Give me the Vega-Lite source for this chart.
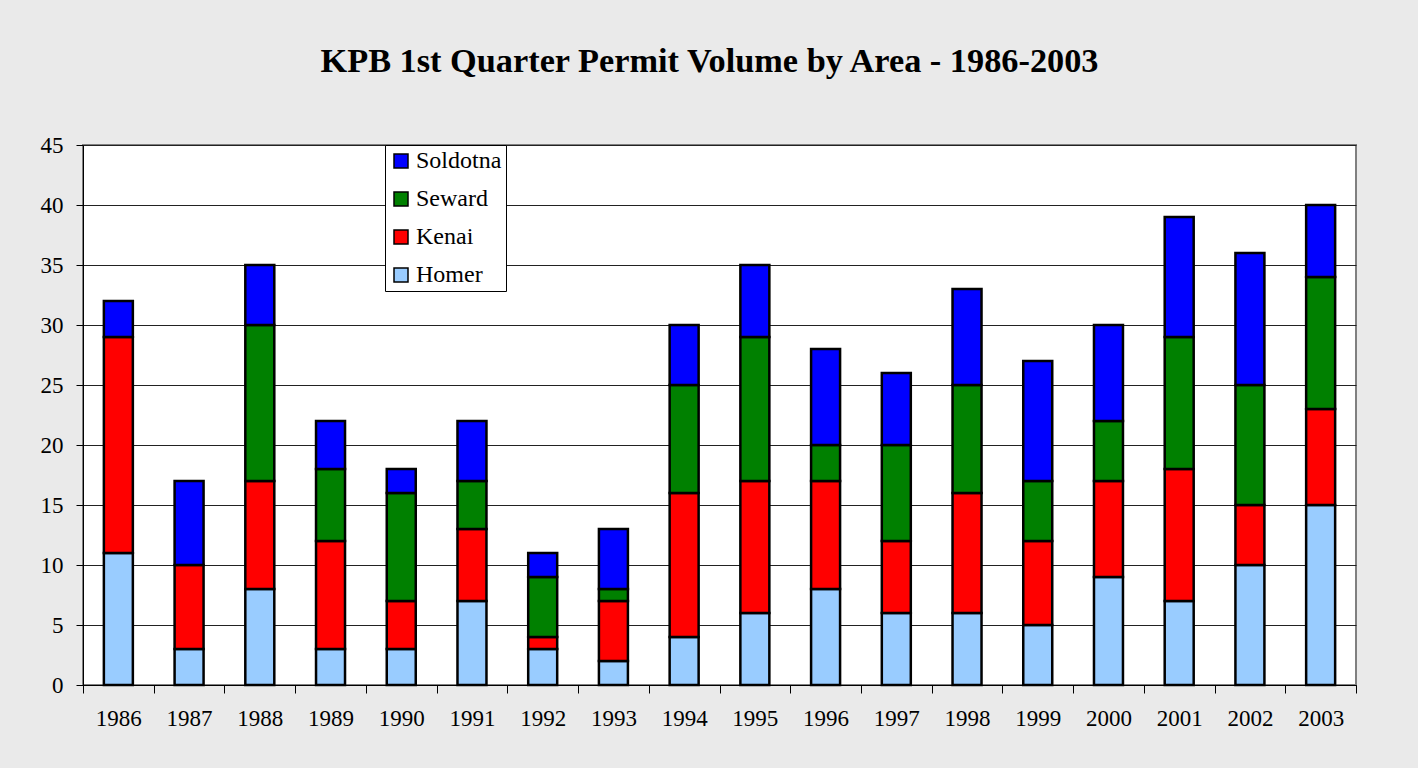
{
  "$schema": "https://vega.github.io/schema/vega-lite/v6.json",
  "width": 1273,
  "height": 540,
  "autosize": {"type": "none"},
  "padding": {"left": 83, "top": 145, "right": 62, "bottom": 83},
  "background": "#eaeaea",
  "title": {
    "text": "KPB 1st Quarter Permit Volume by Area - 1986-2003",
    "font": "Liberation Serif",
    "fontSize": 34.3,
    "fontWeight": "bold",
    "color": "#000000",
    "anchor": "middle",
    "frame": "group",
    "dx": -10,
    "baseline": "alphabetic",
    "offset": 28
  },
  "data": {
    "values": [
      {"year": "1986", "area": "Homer", "value": 11, "ord": 1},
      {"year": "1986", "area": "Kenai", "value": 18, "ord": 2},
      {"year": "1986", "area": "Soldotna", "value": 3, "ord": 4},
      {"year": "1987", "area": "Homer", "value": 3, "ord": 1},
      {"year": "1987", "area": "Kenai", "value": 7, "ord": 2},
      {"year": "1987", "area": "Soldotna", "value": 7, "ord": 4},
      {"year": "1988", "area": "Homer", "value": 8, "ord": 1},
      {"year": "1988", "area": "Kenai", "value": 9, "ord": 2},
      {"year": "1988", "area": "Seward", "value": 13, "ord": 3},
      {"year": "1988", "area": "Soldotna", "value": 5, "ord": 4},
      {"year": "1989", "area": "Homer", "value": 3, "ord": 1},
      {"year": "1989", "area": "Kenai", "value": 9, "ord": 2},
      {"year": "1989", "area": "Seward", "value": 6, "ord": 3},
      {"year": "1989", "area": "Soldotna", "value": 4, "ord": 4},
      {"year": "1990", "area": "Homer", "value": 3, "ord": 1},
      {"year": "1990", "area": "Kenai", "value": 4, "ord": 2},
      {"year": "1990", "area": "Seward", "value": 9, "ord": 3},
      {"year": "1990", "area": "Soldotna", "value": 2, "ord": 4},
      {"year": "1991", "area": "Homer", "value": 7, "ord": 1},
      {"year": "1991", "area": "Kenai", "value": 6, "ord": 2},
      {"year": "1991", "area": "Seward", "value": 4, "ord": 3},
      {"year": "1991", "area": "Soldotna", "value": 5, "ord": 4},
      {"year": "1992", "area": "Homer", "value": 3, "ord": 1},
      {"year": "1992", "area": "Kenai", "value": 1, "ord": 2},
      {"year": "1992", "area": "Seward", "value": 5, "ord": 3},
      {"year": "1992", "area": "Soldotna", "value": 2, "ord": 4},
      {"year": "1993", "area": "Homer", "value": 2, "ord": 1},
      {"year": "1993", "area": "Kenai", "value": 5, "ord": 2},
      {"year": "1993", "area": "Seward", "value": 1, "ord": 3},
      {"year": "1993", "area": "Soldotna", "value": 5, "ord": 4},
      {"year": "1994", "area": "Homer", "value": 4, "ord": 1},
      {"year": "1994", "area": "Kenai", "value": 12, "ord": 2},
      {"year": "1994", "area": "Seward", "value": 9, "ord": 3},
      {"year": "1994", "area": "Soldotna", "value": 5, "ord": 4},
      {"year": "1995", "area": "Homer", "value": 6, "ord": 1},
      {"year": "1995", "area": "Kenai", "value": 11, "ord": 2},
      {"year": "1995", "area": "Seward", "value": 12, "ord": 3},
      {"year": "1995", "area": "Soldotna", "value": 6, "ord": 4},
      {"year": "1996", "area": "Homer", "value": 8, "ord": 1},
      {"year": "1996", "area": "Kenai", "value": 9, "ord": 2},
      {"year": "1996", "area": "Seward", "value": 3, "ord": 3},
      {"year": "1996", "area": "Soldotna", "value": 8, "ord": 4},
      {"year": "1997", "area": "Homer", "value": 6, "ord": 1},
      {"year": "1997", "area": "Kenai", "value": 6, "ord": 2},
      {"year": "1997", "area": "Seward", "value": 8, "ord": 3},
      {"year": "1997", "area": "Soldotna", "value": 6, "ord": 4},
      {"year": "1998", "area": "Homer", "value": 6, "ord": 1},
      {"year": "1998", "area": "Kenai", "value": 10, "ord": 2},
      {"year": "1998", "area": "Seward", "value": 9, "ord": 3},
      {"year": "1998", "area": "Soldotna", "value": 8, "ord": 4},
      {"year": "1999", "area": "Homer", "value": 5, "ord": 1},
      {"year": "1999", "area": "Kenai", "value": 7, "ord": 2},
      {"year": "1999", "area": "Seward", "value": 5, "ord": 3},
      {"year": "1999", "area": "Soldotna", "value": 10, "ord": 4},
      {"year": "2000", "area": "Homer", "value": 9, "ord": 1},
      {"year": "2000", "area": "Kenai", "value": 8, "ord": 2},
      {"year": "2000", "area": "Seward", "value": 5, "ord": 3},
      {"year": "2000", "area": "Soldotna", "value": 8, "ord": 4},
      {"year": "2001", "area": "Homer", "value": 7, "ord": 1},
      {"year": "2001", "area": "Kenai", "value": 11, "ord": 2},
      {"year": "2001", "area": "Seward", "value": 11, "ord": 3},
      {"year": "2001", "area": "Soldotna", "value": 10, "ord": 4},
      {"year": "2002", "area": "Homer", "value": 10, "ord": 1},
      {"year": "2002", "area": "Kenai", "value": 5, "ord": 2},
      {"year": "2002", "area": "Seward", "value": 10, "ord": 3},
      {"year": "2002", "area": "Soldotna", "value": 11, "ord": 4},
      {"year": "2003", "area": "Homer", "value": 15, "ord": 1},
      {"year": "2003", "area": "Kenai", "value": 8, "ord": 2},
      {"year": "2003", "area": "Seward", "value": 11, "ord": 3},
      {"year": "2003", "area": "Soldotna", "value": 6, "ord": 4}
    ]
  },
  "mark": {"type": "bar", "stroke": "#000000", "strokeWidth": 2.5, "width": {"band": 0.41}},
  "encoding": {
    "x": {
      "field": "year",
      "type": "ordinal",
      "scale": {"paddingInner": 0, "paddingOuter": 0},
      "axis": {
        "title": null,
        "labelAngle": 0,
        "labelFont": "Liberation Serif",
        "labelFontSize": 23,
        "labelColor": "#000000",
        "labelPadding": 14,
        "tickBand": "extent",
        "tickSize": 8,
        "tickColor": "#000000",
        "domainColor": "#000000",
        "domainWidth": 1
      }
    },
    "y": {
      "field": "value",
      "type": "quantitative",
      "stack": "zero",
      "scale": {"domain": [0, 45], "nice": false},
      "axis": {
        "title": null,
        "values": [0, 5, 10, 15, 20, 25, 30, 35, 40, 45],
        "labelFont": "Liberation Serif",
        "labelFontSize": 23,
        "labelColor": "#000000",
        "labelPadding": 13,
        "tickSize": 7,
        "tickColor": "#000000",
        "domainColor": "#000000",
        "gridColor": "#222222",
        "gridWidth": 1,
        "gridOpacity": 1
      }
    },
    "color": {
      "field": "area",
      "type": "nominal",
      "scale": {
        "domain": ["Soldotna", "Seward", "Kenai", "Homer"],
        "range": ["#0000ff", "#008000", "#ff0000", "#99ccff"]
      },
      "legend": {
        "title": null,
        "orient": "none",
        "legendX": 302,
        "legendY": 0,
        "symbolType": "square",
        "symbolSize": 196,
        "symbolStrokeColor": "#000000",
        "symbolStrokeWidth": 1.5,
        "symbolOpacity": 1,
        "labelFont": "Liberation Serif",
        "labelFontSize": 24,
        "labelColor": "#000000",
        "labelLimit": 300,
        "labelOffset": 3,
        "rowPadding": 14,
        "padding": 4,
        "strokeColor": "#000000",
        "fillColor": "#ffffff"
      }
    },
    "order": {"field": "ord", "type": "quantitative"}
  },
  "config": {
    "view": {"fill": "#ffffff", "stroke": "#808080", "strokeWidth": 2}
  }
}
